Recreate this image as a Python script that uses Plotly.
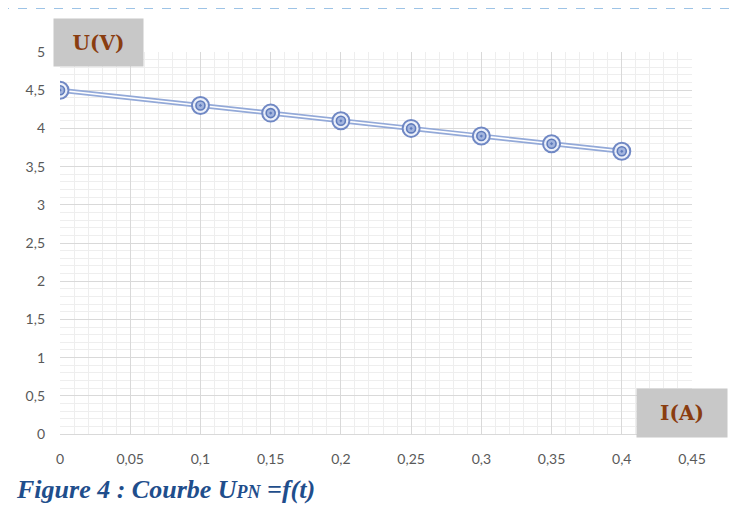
import plotly.graph_objects as go

current_A = [0, 0.1, 0.15, 0.2, 0.25, 0.3, 0.35, 0.4]
voltage_V = [4.5, 4.3, 4.2, 4.1, 4.0, 3.9, 3.8, 3.7]

x_ticks = [0, 0.05, 0.1, 0.15, 0.2, 0.25, 0.3, 0.35, 0.4, 0.45]
x_tick_labels = ["0", "0,05", "0,1", "0,15", "0,2", "0,25", "0,3", "0,35", "0,4", "0,45"]
y_ticks = [0, 0.5, 1, 1.5, 2, 2.5, 3, 3.5, 4, 4.5, 5]
y_tick_labels = ["0", "0,5", "1", "1,5", "2", "2,5", "3", "3,5", "4", "4,5", "5"]

W, H = 738, 525
OFF = 8  # page body offset compensation
L, R, T = 60 - OFF, 738 - 692 + OFF, 52 - OFF
B = H - (434 - OFF)
pw, ph = W - L - R, H - T - B

def px(xp):
    return (xp - OFF - L) / pw

def py(yp):
    return (H - B - (yp - OFF)) / ph

fig = go.Figure()
# double line: light blue outline + white core
fig.add_trace(go.Scatter(x=current_A, y=voltage_V, mode="lines",
                         line=dict(color="#93A9D8", width=5), hoverinfo="skip", showlegend=False))
fig.add_trace(go.Scatter(x=current_A, y=voltage_V, mode="lines",
                         line=dict(color="#FFFFFF", width=1.6), hoverinfo="skip", showlegend=False))
# double ring markers
fig.add_trace(go.Scatter(x=current_A, y=voltage_V, mode="markers",
                         marker=dict(symbol="circle", size=17, color="rgba(235,240,250,0.9)",
                                     line=dict(color="#7088C4", width=2)),
                         hoverinfo="skip", showlegend=False))
fig.add_trace(go.Scatter(x=current_A, y=voltage_V, mode="markers",
                         marker=dict(symbol="circle-dot", size=9, color="#A3B5DE",
                                     line=dict(color="#5F7BBB", width=1.6)),
                         showlegend=False))

tick_font = dict(family="Lato, Open Sans, sans-serif", size=14, color="#595959")

fig.update_xaxes(range=[0, 0.45], tickvals=x_ticks, ticktext=x_tick_labels,
                 showgrid=True, gridcolor="#D9D9D9", gridwidth=1,
                 minor=dict(dtick=0.01, showgrid=True, gridcolor="#EEEEEE", gridwidth=1),
                 zeroline=False, showline=True, linecolor="#D9D9D9",
                 ticks="", tickfont=tick_font, ticklabelstandoff=12, fixedrange=True)
fig.update_yaxes(range=[0, 5], tickvals=y_ticks, ticktext=y_tick_labels,
                 showgrid=True, gridcolor="#D9D9D9", gridwidth=1,
                 minor=dict(dtick=0.1, showgrid=True, gridcolor="#EEEEEE", gridwidth=1),
                 zeroline=False, showline=False,
                 ticks="", tickfont=tick_font, ticklabelstandoff=14, fixedrange=True)

label_font = dict(family="DejaVu Serif, serif", size=20, color="#8A3D10")
annotations = [
    dict(x=px(98), y=py(42), xref="paper", yref="paper", text="<b>U(V)</b>",
         showarrow=False, bgcolor="#C8C8C8", width=87, height=45, font=label_font,
         xanchor="center", yanchor="middle"),
    dict(x=px(682), y=py(413), xref="paper", yref="paper", text="<b>I(A)</b>",
         showarrow=False, bgcolor="#C8C8C8", width=88, height=46, font=label_font,
         xanchor="center", yanchor="middle"),
    dict(x=px(14), y=py(489), xref="paper", yref="paper",
         text="<b><i>Figure 4 : Courbe U<span style='font-size:18px'>PN</span> =f(t)</i></b>",
         showarrow=False, xanchor="left", yanchor="middle",
         font=dict(family="Liberation Serif, Times New Roman, serif", size=26, color="#1F4E8C")),
]

shapes = [
    dict(type="line", xref="paper", yref="paper", x0=px(0), x1=px(746), y0=py(8.5), y1=py(8.5),
         line=dict(color="#9DC3E6", width=1.2, dash="dash")),
]

fig.update_layout(width=W, height=H, margin=dict(l=L, r=R, t=T, b=B),
                  paper_bgcolor="white", plot_bgcolor="white",
                  annotations=annotations, shapes=shapes, showlegend=False)

fig.write_html("out.html")
